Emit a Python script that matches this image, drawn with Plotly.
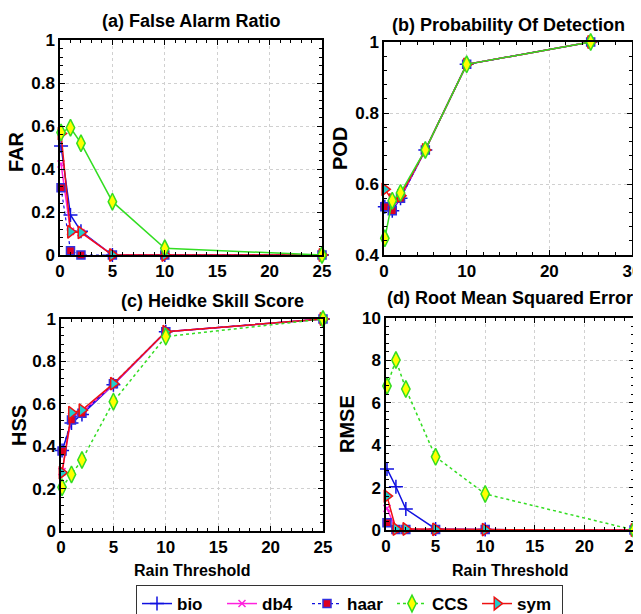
import plotly.graph_objects as go

thresholds = [0.1, 1, 2, 5, 10, 25]
methods = ["bio", "db4", "haar", "CCS", "sym"]

far = {
    "bio":  [0.507, 0.186, 0.11, 0.0, 0.0, 0.0],
    "db4":  [0.423, 0.11, 0.105, 0.0, 0.0, 0.0],
    "haar": [0.313, 0.02, 0.0, 0.0, 0.0, 0.0],
    "CCS":  [0.57, 0.592, 0.52, 0.248, 0.031, 0.0],
    "sym":  [0.565, 0.108, 0.105, 0.0, 0.0, 0.0],
}
pod = {
    "bio":  [0.536, 0.525, 0.56, 0.696, 0.937, 1.0],
    "db4":  [0.54, 0.53, 0.562, 0.696, 0.937, 1.0],
    "haar": [0.536, 0.525, 0.56, 0.696, 0.937, 1.0],
    "CCS":  [0.447, 0.553, 0.575, 0.696, 0.937, 1.0],
    "sym":  [0.585, 0.555, 0.567, 0.696, 0.937, 1.0],
}
hss = {
    "bio":  [0.38, 0.51, 0.55, 0.69, 0.94, 1.0],
    "db4":  [0.28, 0.54, 0.56, 0.69, 0.94, 1.0],
    "haar": [0.377, 0.524, 0.555, 0.695, 0.94, 1.0],
    "CCS":  [0.206, 0.267, 0.335, 0.61, 0.917, 1.0],
    "sym":  [0.275, 0.558, 0.57, 0.695, 0.94, 1.0],
}
rmse = {
    "bio":  [2.88, 2.04, 0.99, 0.05, 0.02, 0.0],
    "db4":  [1.02, 0.03, 0.03, 0.02, 0.02, 0.0],
    "haar": [0.34, 0.02, 0.02, 0.02, 0.02, 0.0],
    "CCS":  [6.79, 8.02, 6.65, 3.45, 1.7, 0.0],
    "sym":  [1.6, 0.05, 0.05, 0.03, 0.02, 0.0],
}

styles = {
    "bio":  dict(line=dict(color="#1010e0", width=1.5),
                 marker=dict(symbol="cross-thin", size=10, color="#1010e0",
                             line=dict(color="#1010e0", width=1.5))),
    "db4":  dict(line=dict(color="#ff22dd", width=1.5),
                 marker=dict(symbol="x-thin", size=7, color="#ff22dd",
                             line=dict(color="#ff22dd", width=1.5))),
    "haar": dict(line=dict(color="#1010e0", width=1.2, dash="dot"),
                 marker=dict(symbol="square", size=8, color="#dd0022",
                             line=dict(color="#3030e0", width=1.5))),
    "CCS":  dict(line=dict(color="#33dd22", width=1.5, dash="dot"),
                 marker=dict(symbol="diamond-tall", size=12, color="#ffff00",
                             line=dict(color="#33dd22", width=1.5))),
    "sym":  dict(line=dict(color="#ee1111", width=1.5),
                 marker=dict(symbol="triangle-right", size=11, color="#22cccc",
                             line=dict(color="#ee1111", width=1.5))),
}
rank = {m: i for i, m in enumerate(methods)}
draw_order = ["bio", "db4", "haar", "sym", "CCS"]

# page has an 8px body margin; figure is sized so that it fills the 641x614 window
OFF = 8
FW, FH = 641 - OFF, 614 - OFF


def px(x):
    return (x - OFF) / FW


def py(y):
    return 1 - (y - OFF) / FH


panels = [
    (far, "x", "y", (60, 322), (40, 255), [0, 25], [0, 1], 0.2, 0.04, True, False),
    (pod, "x2", "y2", (384, 632), (42, 255), [0, 30], [0.4, 1], 0.2, 0.04, True, False),
    (hss, "x3", "y3", (61, 323), (319, 531), [0, 25], [0, 1], 0.2, 0.04, False, True),
    (rmse, "x4", "y4", (386, 634), (318, 530), [0, 25], [0, 10], 2, 0.4, False, False),
]
bf = "Arial, Liberation Sans"

fig = go.Figure()
layout = {}
for data, xa, ya, xpx, ypx, xr, yr, ydt, ymin, solid, legend in panels:
    for m in draw_order:
        st = styles[m]
        line = dict(st["line"])
        if solid and m == "CCS":
            line["dash"] = "solid"
        fig.add_trace(go.Scatter(
            x=thresholds, y=data[m], name=m, mode="lines+markers",
            line=line, marker=st["marker"], xaxis=xa, yaxis=ya,
            showlegend=legend, legendrank=rank[m], cliponaxis=False,
        ))
    xkey = "xaxis" + xa[1:]
    ykey = "yaxis" + ya[1:]
    xdt = 10 if xr[1] == 30 else 5
    common = dict(showline=True, linecolor="black", linewidth=1.5, mirror="allticks",
                  ticks="inside", ticklen=5, tickwidth=1.2, tickcolor="black",
                  showgrid=True, gridcolor="#d0d0d0", griddash="dot", gridwidth=1,
                  zeroline=False, automargin=False, ticklabeloverflow="allow",
                  tickfont=dict(family=bf, size=17, color="black", weight="bold"))
    layout[xkey] = dict(common, domain=[px(xpx[0]), px(xpx[1])], range=xr, dtick=xdt, tick0=0,
                        anchor=ya,
                        minor=dict(ticks="inside", ticklen=3, dtick=1 if xdt == 5 else 2,
                                   tickcolor="black", showgrid=False))
    layout[ykey] = dict(common, domain=[py(ypx[1]), py(ypx[0])], range=yr, dtick=ydt, tick0=0,
                        anchor=xa,
                        minor=dict(ticks="inside", ticklen=3, dtick=ymin,
                                   tickcolor="black", showgrid=False))

fig.update_layout(**layout)

titles = [("(a) False Alarm Ratio", 191, 21), ("(b) Probability Of Detection", 508, 25),
          ("(c) Heidke Skill Score", 212, 301), ("(d) Root Mean Squared Error", 510, 298)]
ylabels = [("FAR", 16, 152), ("POD", 340, 149), ("HSS", 19, 426), ("RMSE", 347, 424)]
xlabels = [("Rain Threshold", 192, 570), ("Rain Threshold", 510, 570)]
ann = []
for t, x, y in titles:
    ann.append(dict(text=t, x=px(x), y=py(y), xref="paper", yref="paper", showarrow=False,
                    font=dict(family=bf, size=18, color="black", weight="bold"),
                    xanchor="center", yanchor="middle"))
for t, x, y in ylabels:
    ann.append(dict(text=t, x=px(x), y=py(y), xref="paper", yref="paper", showarrow=False,
                    textangle=-90, font=dict(family=bf, size=20, color="black", weight="bold"),
                    xanchor="center", yanchor="middle"))
for t, x, y in xlabels:
    ann.append(dict(text=t, x=px(x), y=py(y), xref="paper", yref="paper", showarrow=False,
                    font=dict(family=bf, size=16, color="black", weight="bold"),
                    xanchor="center", yanchor="middle"))

fig.update_layout(
    width=FW, height=FH, margin=dict(l=0, r=0, t=0, b=0, autoexpand=False),
    paper_bgcolor="white", plot_bgcolor="white",
    annotations=ann,
    legend=dict(orientation="h", x=px(136), y=py(585), xanchor="left", yanchor="top",
                bordercolor="#333333", borderwidth=1, bgcolor="white",
                font=dict(family=bf, size=17, color="black", weight="bold"),
                entrywidth=40, entrywidthmode="pixels", tracegroupgap=0),
)
fig.write_html("out.html")
